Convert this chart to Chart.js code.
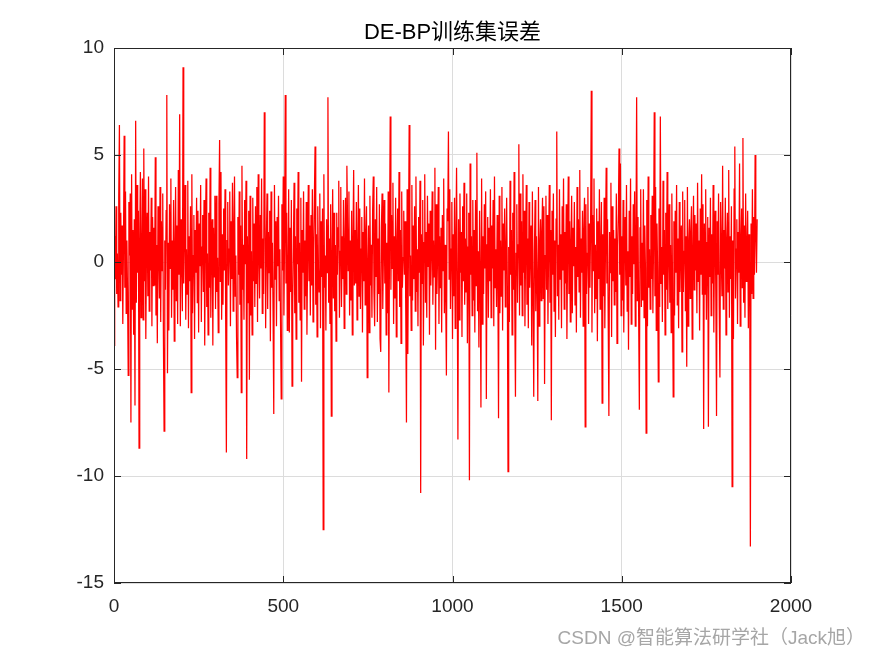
<!DOCTYPE html>
<html>
<head>
<meta charset="utf-8">
<script src="https://cdn.jsdelivr.net/npm/chart.js@4/dist/chart.umd.min.js"></script>
<style>
  body { margin: 0; background: #fff; }
  #wrap { position: relative; width: 875px; height: 656px; }
  #title { position: absolute; left: 114px; width: 677px; top: 19px; text-align: center;
           font: 22px "Liberation Sans", "Noto Sans CJK SC", sans-serif; color: #000; line-height: 26px; }
  #mark { position: absolute; right: 10px; top: 622px; line-height: 22px;
          font: 19px "Liberation Sans", "Noto Sans CJK SC", sans-serif; color: #a6a6a6; }
</style>
</head>
<body>
<div id="wrap">
  <canvas id="myChart" width="875" height="656"></canvas>
  <div id="title">DE-BP训练集误差</div>
  <div id="mark">CSDN @智能算法研学社（Jack旭）</div>
</div>
<script>
// one value every 2 samples
var sampleStep = 2;

var errors = [
  -3.9, 1.2, -0.8, 2.6, -1.5, 0.4, -2.1, 3.0, 6.4, -1.8, 2.3, -0.6, 1.7, -2.9, 0.8, 5.9, -1.2, 3.3, -2.4, 1.0,
  -1.4, -5.3, 2.8, 0.3, 3.2, -7.5, 4.1, -2.2, 1.5, -3.4, 2.0, -6.7, 6.6, -1.9, 3.6, -0.5, 2.4, -8.7, 1.1, 4.2,
  -2.6, 0.2, 3.9, -2.7, 5.3, -0.9, 3.4, -3.6, 0.6, 2.3, -1.6, 4.0, -2.3, 1.4, -0.4, 3.0, -3.0, 2.1, -1.1, 1.6,
  -1.1, 4.9, -2.5, 0.8, -3.8, 2.6, 0.5, -1.7, 3.5, -2.8, 1.9, -0.4, 3.2, -3.5, -7.9, 1.0, -1.3, 2.4, 7.8, -5.2,
  0.9, -3.2, 2.7, -0.3, 3.9, -2.6, 1.0, -1.3, 2.9, -3.7, 0.4, 3.5, -1.8, 1.7, -2.9, 4.3, -0.6, 6.9, -3.0, 2.0,
  0.1, -2.3, 9.1, -1.0, 1.4, 3.6, -2.7, 0.6, -1.5, 3.8, -3.1, 1.2, -0.9, 2.6, -6.1, 4.1, -2.4, 0.3, 2.2, -3.6,
  1.5, -0.5, 3.0, -1.9, 2.4, -3.3, 1.8, -0.2, 3.6, -2.8, 0.7, 2.2, -1.4, 2.9, -3.9, 1.1, 3.9, -2.1, 0.4, -3.4,
  2.3, -1.2, 4.4, -2.6, 0.9, 2.0, -3.9, 1.6, -0.7, 3.1, -2.2, 3.1, -1.4, 0.2, -3.3, 2.7, 5.7, -0.9, 4.2, -2.7,
  1.3, -2.0, 2.5, -0.4, 3.4, -2.9, -8.9, 1.0, 2.8, -1.1, 0.6, 3.3, -3.0, 1.9, -0.8, 3.7, -2.3, 1.4, 4.0, -1.6,
  0.3, -3.5, -5.4, 2.1, -0.6, 3.3, -2.0, 1.7, -6.1, 4.5, -1.3, 0.8, -2.7, 2.9, -0.1, 3.8, -9.2, 1.2, -1.9, 2.4,
  -5.5, 3.1, -2.5, 0.5, -3.4, 3.0, -0.9, 1.8, -2.1, 2.6, -1.0, 3.5, -2.8, 4.1, 0.4, -1.7, 2.2, -0.3, 3.9, -2.4,
  1.1, -1.5, 7.0, 2.8, -3.1, 0.7, 3.2, -2.2, 1.4, -0.5, 2.4, -3.7, 3.3, -1.2, 0.9, -2.6, -7.1, 3.6, -0.8, 1.9,
  -3.0, 2.1, -0.2, 3.1, -1.8, 0.6, -2.9, -6.4, 2.7, -0.4, 4.0, -2.5, 1.3, 7.8, -1.0, 2.3, -3.2, -0.7, 3.4, -3.3,
  1.6, -1.4, 2.9, -5.8, -2.0, 0.8, 3.7, -2.4, 1.2, -3.6, 2.5, -0.1, 4.2, -1.9, 0.9, -2.7, 3.0, -5.6, 1.5, -0.5,
  3.3, -2.2, 1.0, -1.6, 2.8, -3.4, 0.4, 3.6, -0.9, 1.7, -2.5, 2.2, -1.1, 3.4, -2.8, 0.6, 3.0, 5.4, -2.0, 1.3,
  -3.5, 2.6, -0.3, -1.4, 3.2, -3.1, 1.9, -0.7, 2.5, -12.5, 4.1, -1.2, 0.3, -3.2, 2.0, -0.5, 7.7, -1.9, 1.1, -2.9,
  2.7, -7.2, 0.2, 3.4, -1.7, 2.3, -2.3, 0.8, -3.7, 2.3, -0.6, 1.6, 3.8, -2.6, 0.5, 3.5, -2.1, 1.2, -0.8, 2.9,
  -3.1, 0.7, 3.0, -1.5, 4.5, 1.8, -0.4, 3.3, -2.5, 1.0, -1.8, 2.4, -3.4, 0.9, 4.3, -1.1, 1.5, -1.0, 2.8, -2.7,
  0.4, 3.6, -1.6, 2.5, -2.2, 0.6, 2.1, -3.3, 1.4, -0.9, 3.9, -2.0, 1.1, 2.6, -5.4, -0.2, 1.7, -3.3, 3.1, -1.1,
  0.8, -2.6, 2.3, 4.0, -1.4, -3.0, 2.0, -0.7, 3.5, -2.8, 1.1, -1.5, 2.7, -3.6, -4.2, 1.6, 3.2, -2.2, 0.5, 2.9,
  -1.0, 1.8, -3.4, 0.9, -2.4, 3.3, -6.1, 1.2, 6.8, -1.3, 2.2, -0.3, 3.7, -2.9, 1.2, -1.7, 3.0, -3.5, 0.7, 2.5,
  -0.9, 4.2, -2.1, 1.5, -3.8, 3.3, -1.2, 0.2, 2.4, -0.6, 1.9, -2.5, -7.5, 3.4, -4.3, 0.8, 6.4, -1.6, 0.3, -3.2,
  3.6, -1.8, 1.7, -0.8, 2.6, -2.3, 4.0, -1.4, 0.6, -3.0, 2.1, -0.5, 3.8, -10.8, 1.3, -1.0, 2.9, -3.9, 0.9, 4.1,
  -1.9, 1.4, -2.6, 3.1, -0.2, 1.8, -3.4, 2.4, -1.1, 0.5, 3.3, -2.0, 1.0, -0.7, 4.4, -4.1, 2.7, -1.5, 0.4, 3.5,
  -2.9, 1.2, -1.2, 1.6, -3.3, 2.2, -0.4, 3.9, -2.4, 0.8, -1.7, -5.3, 2.5, 1.9, 6.1, -0.8, 3.4, -2.2, 0.6, 2.8,
  -3.6, 1.3, -1.6, 3.0, -3.1, 0.9, 4.4, -1.0, -8.3, 2.0, -2.7, 3.2, -0.5, 1.4, -3.5, 2.6, -0.9, 3.7, -2.0, 1.1,
  -1.4, 3.2, -3.8, 0.7, 2.3, -10.2, 4.6, -0.6, 1.2, -2.5, 2.9, -1.8, 1.5, -3.3, 2.9, -1.1, 5.1, -2.3, 0.5, -4.0,
  2.4, -0.7, -6.8, 3.9, -2.9, 1.2, -1.5, 2.7, -0.3, 3.3, -6.4, 0.8, 2.1, -2.6, 1.6, -0.9, 3.4, -2.6, 1.7, -0.3,
  2.9, -3.0, 4.0, -1.2, 0.6, -2.1, 2.2, -0.8, -7.3, 3.1, -2.4, 1.0, -1.6, 3.5, -3.2, 1.8, -0.4, 2.5, -2.1, 0.4,
  3.0, -1.0, -9.8, 0.7, -2.8, 3.8, -0.6, 1.5, -3.4, 2.3, -1.3, 4.2, -2.2, -6.3, 0.4, 2.7, -1.9, 0.8, 5.5, -2.5,
  3.2, -1.1, 1.9, -2.5, 4.1, -0.5, 2.4, -3.0, 0.6, 3.6, -2.0, 1.1, -3.1, 2.8, -1.2, 0.6, 1.7, -3.9, 3.3, -1.4,
  -6.3, 0.5, 2.9, -2.3, 1.2, -0.9, -6.5, 3.5, -3.0, 0.7, 2.0, -1.8, 1.4, 3.0, -1.7, 2.6, -5.7, 0.3, 3.1, -1.3,
  2.2, -2.9, 0.9, 3.6, -1.9, 1.5, -7.4, 2.4, -0.6, 3.2, -2.3, 1.0, -3.5, 2.0, 6.1, -1.6, 0.8, -2.7, 3.4, -0.8,
  1.3, -3.1, 2.6, -0.4, 3.9, -2.2, 1.4, -1.0, 2.7, -3.6, 0.5, 4.0, -1.5, 1.9, -2.8, 0.9, 3.1, -2.4, 1.6, -0.2,
  2.8, -2.0, 0.7, -3.3, 3.5, -0.7, 2.0, -1.4, 4.3, -2.6, 1.1, -0.5, 2.4, -3.0, 1.5, 3.0, -7.7, 2.7, -1.5, 0.4,
  3.5, -2.9, 1.8, -1.2, 1.6, 8.0, -3.3, 2.2, -0.4, 3.9, -2.4, 0.8, -1.7, 2.5, -3.7, 1.9, -0.8, 3.4, -2.2, 0.6,
  2.8, -6.6, 1.3, -1.6, 3.0, -3.1, 0.9, 4.4, -1.0, 2.0, -2.7, -7.2, 1.4, -0.5, 3.7, -3.5, 2.6, -0.9, 1.5, -2.0,
  1.1, -1.4, 3.2, -3.8, 0.7, 2.3, 5.3, -0.6, 4.6, -2.5, 1.2, -1.8, 2.9, -3.3, 0.8, 2.1, -1.1, 3.6, -2.3, 0.5,
  -4.1, 2.4, -0.7, 3.9, -2.9, 1.2, -1.5, 2.7, -0.1, 3.3, -3.0, 0.8, 7.7, -1.8, 2.1, -2.6, -6.9, 1.6, 3.4, -2.1,
  0.9, -1.8, 3.4, -2.6, 1.7, -0.3, -8.0, 2.9, -3.0, 4.0, -1.2, 0.6, -2.2, 2.2, -0.8, 3.1, -2.4, 1.0, 7.0, -1.6,
  3.5, -3.2, 1.8, -0.4, -5.6, 2.5, -2.1, 6.8, -1.0, 0.7, -2.8, 3.8, -0.6, 1.5, -3.4, 2.3, -1.3, 4.2, -2.2, 0.4,
  2.7, -1.9, 0.8, -3.3, 3.2, -1.1, -6.3, 1.9, -2.5, 2.4, -0.5, 3.6, -2.0, 1.1, -3.1, 2.8, -1.4, 0.6, 1.7, -4.2,
  3.3, -1.4, 0.5, 2.9, -2.3, 1.2, -4.9, 3.5, -3.0, 0.7, 2.0, -1.7, 1.4, 2.6, -3.6, 0.3, 3.1, -1.3, 2.2, -0.4,
  1.8, -2.4, 3.7, -0.9, 1.0, -3.2, 2.5, -0.6, 4.1, -1.5, 2.7, -7.8, 1.8, -1.5, 3.4, -2.7, 0.9, 2.1, -7.7, 1.6,
  -0.7, 3.0, -2.5, 1.3, -1.0, 3.6, -3.3, 0.8, 2.4, -1.8, -7.2, 1.9, -0.6, 3.2, -2.1, -5.4, 2.8, 0.4, -1.6, 4.5,
  -2.2, 1.5, -0.3, 3.0, -3.4, 0.9, 2.3, -1.4, 4.3, -2.6, 1.2, -0.8, 2.6, -10.5, 1.0, -3.6, 3.4, 5.4, -1.7, 0.6,
  2.0, -2.9, 1.4, -0.5, 4.6, -3.0, 0.8, 2.5, -1.2, 5.8, -1.9, 1.7, -2.6, 3.2, -0.9, 0.5, 2.4, -3.1, 1.3, -0.7,
  -13.3, 1.8, -1.5, 3.4, -1.7, 2.1, -0.6, 5.0, 1.2, -0.5, 2.0
];

var xTicks = [0, 500, 1000, 1500, 2000];
var yTicks = [-15, -10, -5, 0, 5, 10];

var points = errors.map(function (v, i) { return { x: i * sampleStep, y: v }; });

var axisColor = '#262626';
var tickFont = { family: '"Liberation Sans", Arial, sans-serif', size: 19 };

// box around the axes + inward tick marks on all four sides
var boxPlugin = {
  id: 'box',
  afterDraw: function (chart) {
    var ctx = chart.ctx, a = chart.chartArea;
    var xs = chart.scales.x, ys = chart.scales.y;
    ctx.save();
    ctx.strokeStyle = axisColor;
    ctx.lineWidth = 1;
    ctx.strokeRect(a.left + 0.5, a.top + 0.5, a.right - a.left - 1, a.bottom - a.top - 1);
    ctx.beginPath();
    xTicks.forEach(function (t) {
      var px = Math.round(xs.getPixelForValue(t)) + 0.5;
      ctx.moveTo(px, a.bottom); ctx.lineTo(px, a.bottom - 7);
      ctx.moveTo(px, a.top); ctx.lineTo(px, a.top + 7);
    });
    yTicks.forEach(function (t) {
      var py = Math.round(ys.getPixelForValue(t)) + 0.5;
      ctx.moveTo(a.left, py); ctx.lineTo(a.left + 7, py);
      ctx.moveTo(a.right, py); ctx.lineTo(a.right - 7, py);
    });
    ctx.stroke();
    ctx.restore();
  }
};

var ctx = document.getElementById('myChart').getContext('2d');
var chart = new Chart(ctx, {
  type: 'line',
  data: {
    datasets: [{
      data: points,
      borderColor: '#ff0000',
      borderWidth: 1.25,
      pointRadius: 0,
      tension: 0,
      fill: false
    }]
  },
  options: {
    responsive: false,
    animation: false,
    devicePixelRatio: 1,
    layout: { padding: { top: 48, right: 84, left: 0, bottom: 0 } },
    plugins: { legend: { display: false }, tooltip: { enabled: false }, title: { display: false } },
    scales: {
      x: {
        type: 'linear', min: 0, max: 2000,
        afterFit: function (s) { s.height = 73; },
        afterBuildTicks: function (s) { s.ticks = xTicks.map(function (v) { return { value: v }; }); },
        grid: { color: '#dcdcdc', drawTicks: false },
        border: { display: false },
        ticks: { color: axisColor, font: tickFont, padding: 12, maxRotation: 0,
                 callback: function (v) { return String(v); } }
      },
      y: {
        min: -15, max: 10,
        afterFit: function (s) { s.width = 114; },
        afterBuildTicks: function (s) { s.ticks = yTicks.map(function (v) { return { value: v }; }); },
        grid: { color: '#dcdcdc', drawTicks: false },
        border: { display: false },
        ticks: { color: axisColor, font: tickFont, padding: 10,
                 callback: function (v) { return String(v); } }
      }
    }
  },
  plugins: [boxPlugin]
});
</script>
</body>
</html>
